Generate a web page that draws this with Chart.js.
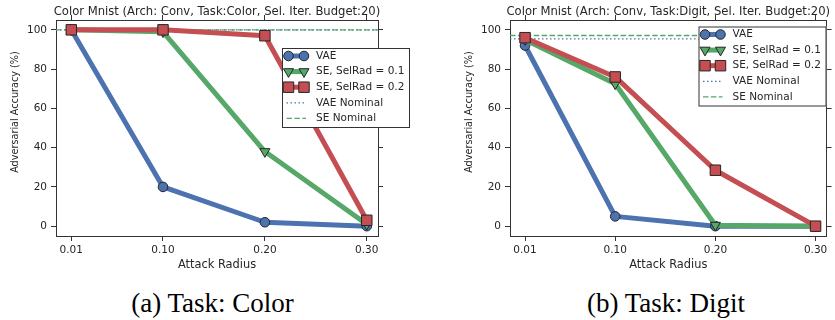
<!DOCTYPE html>
<html>
<head>
<meta charset="utf-8">
<script src="https://cdn.jsdelivr.net/npm/chart.js@4"></script>
<style>
  body { margin: 0; background: #fff; width: 835px; height: 320px; position: relative; overflow: hidden; }
  .panel { position: absolute; top: 0; }
  .caption { position: absolute; top: 288px; line-height: 30px; font-family: "Liberation Serif", "Times New Roman", serif;
             font-size: 27px; color: #000; white-space: nowrap; transform: translateX(-50%); }
</style>
</head>
<body>
<canvas id="colorChart" class="panel" width="415" height="280" style="left:0"></canvas>
<canvas id="digitChart" class="panel" width="420" height="280" style="left:415px"></canvas>
<div class="caption" style="left:212.5px">(a) Task: Color</div>
<div class="caption" style="left:666px">(b) Task: Digit</div>
<script>
// data
const radii = [0.01, 0.10, 0.20, 0.30];
const xTicks = [0.01, 0.10, 0.20, 0.30];
const yTicks = [0, 20, 40, 60, 80, 100];
const seriesNames = ['VAE', 'SE, SelRad = 0.1', 'SE, SelRad = 0.2', 'VAE Nominal', 'SE Nominal'];

const colorVae = [100, 20, 2, 0];
const colorSe01 = [100, 99, 38, 1];
const colorSe02 = [100, 100, 97, 3];
const colorVaeNominal = 100;
const colorSeNominal = 100;

const digitVae = [92, 5, 0, 0];
const digitSe01 = [95, 72.5, 0.5, 0];
const digitSe02 = [96, 76, 28.5, 0];
const digitVaeNominal = 95.4;
const digitSeNominal = 97.1;

const X_MIN = -0.005, X_MAX = 0.311;
const Y_MIN = -5, Y_MAX = 105;

const BLUE = '#4c72b0', GREEN = '#55a868', RED = '#c44e52';
const AXIS = '#333333', TEXT = '#262626', EDGE = '#262626';
const FONT = 'DejaVu Sans';

const styles = [
  { color: BLUE, pointStyle: 'circle', radius: 4.8, rotation: 0 },
  { color: GREEN, pointStyle: 'triangle', radius: 5.8, rotation: 180 },
  { color: RED, pointStyle: 'rect', radius: 7.4, rotation: 0 }
];

function toPoints(values) {
  return values.map((v, i) => ({ x: radii[i], y: v }));
}

function markerSet(label, values, s, order) {
  return {
    label: label,
    data: toPoints(values),
    borderColor: s.color,
    backgroundColor: s.color,
    borderWidth: 5,
    borderJoinStyle: 'round',
    pointStyle: s.pointStyle,
    pointRadius: s.radius,
    pointRotation: s.rotation,
    pointBackgroundColor: s.color,
    pointBorderColor: EDGE,
    pointBorderWidth: 1,
    order: order
  };
}

function nominalSet(label, value, color, dash, order) {
  return {
    label: label,
    data: [{ x: X_MIN, y: value }, { x: X_MAX, y: value }],
    borderColor: color,
    borderWidth: 1.3,
    borderDash: dash,
    pointRadius: 0,
    order: order
  };
}

// titles, axis labels and the legend box
const panelText = {
  id: 'panelText',
  afterDraw(chart, args, opts) {
    const ctx = chart.ctx;
    const a = chart.chartArea;
    const cx = (a.left + a.right) / 2;
    ctx.save();
    ctx.fillStyle = TEXT;
    ctx.textAlign = 'center';
    ctx.textBaseline = 'middle';
    ctx.font = '11.6px "' + FONT + '"';
    ctx.fillText(opts.title, cx, 12);
    ctx.font = '11.4px "' + FONT + '"';
    ctx.fillText('Attack Radius', cx, 265.5);
    ctx.save();
    ctx.font = '9.7px "' + FONT + '"';
    ctx.translate(a.left - 41, 112);
    ctx.rotate(-Math.PI / 2);
    ctx.fillText('Adversarial Accuracy (%)', 0, 0);
    ctx.restore();

    // legend
    ctx.font = '10.5px "' + FONT + '"';
    const lx = opts.legendX, ly = opts.legendY;
    ctx.fillStyle = '#fff';
    ctx.fillRect(lx, ly, 128, 80);
    ctx.strokeStyle = AXIS;
    ctx.lineWidth = 1;
    ctx.strokeRect(lx + 0.5, ly + 0.5, 127, 79);
    const x0 = lx + 6.5, x1 = lx + 22;
    seriesNames.forEach((name, i) => {
      const y = ly + 8 + i * 15.6;
      if (i < 3) {
        const s = styles[i];
        ctx.strokeStyle = s.color;
        ctx.lineWidth = 5;
        ctx.setLineDash([]);
        ctx.beginPath(); ctx.moveTo(x0, y); ctx.lineTo(x1, y); ctx.stroke();
        ctx.fillStyle = s.color;
        ctx.strokeStyle = EDGE;
        ctx.lineWidth = 1;
        [x0, x1].forEach(px => Chart.helpers.drawPoint(ctx,
          { pointStyle: s.pointStyle, radius: s.radius, rotation: s.rotation, borderWidth: 1 }, px, y));
      } else {
        ctx.strokeStyle = i === 3 ? BLUE : GREEN;
        ctx.lineWidth = 1.3;
        ctx.setLineDash(i === 3 ? [1.5, 2.5] : [5.5, 2.4]);
        ctx.beginPath(); ctx.moveTo(x0 - 2, y); ctx.lineTo(x1 + 2, y); ctx.stroke();
        ctx.setLineDash([]);
      }
      ctx.fillStyle = TEXT;
      ctx.textAlign = 'left';
      ctx.fillText(name, lx + 34, y);
    });
    ctx.restore();
  }
};

function axisScale(extra) {
  return Object.assign({
    grid: { display: true, drawOnChartArea: false, drawTicks: true, tickLength: 5, color: AXIS, lineWidth: 1 },
    border: { display: true, color: AXIS, width: 1 }
  }, extra);
}

function makeChart(id, title, vae, se01, se02, vaeNom, seNom, area, legendX, legendY) {
  const canvas = document.getElementById(id);
  const W = canvas.width, H = canvas.height;
  const tickFont = { family: FONT, size: 10.5 };
  const setX = s => { s.ticks = xTicks.map(v => ({ value: v })); };
  const setY = s => { s.ticks = yTicks.map(v => ({ value: v })); };
  return new Chart(canvas, {
    type: 'line',
    data: {
      datasets: [
        markerSet(seriesNames[0], vae, styles[0], 3),
        markerSet(seriesNames[1], se01, styles[1], 2),
        markerSet(seriesNames[2], se02, styles[2], 1),
        nominalSet(seriesNames[3], vaeNom, BLUE, [1.5, 2.5], 5),
        nominalSet(seriesNames[4], seNom, GREEN, [5.5, 2.4], 4)
      ]
    },
    options: {
      responsive: false,
      animation: false,
      events: [],
      layout: { padding: 0 },
      plugins: {
        legend: { display: false },
        title: { display: false },
        tooltip: { enabled: false },
        panelText: { title: title, legendX: legendX, legendY: legendY }
      },
      scales: {
        x: axisScale({
          type: 'linear', position: 'bottom', min: X_MIN, max: X_MAX,
          afterBuildTicks: setX,
          afterFit: s => { s.height = H - area.bottom; },
          ticks: { font: tickFont, color: TEXT, padding: 3, maxRotation: 0, autoSkip: false,
                   callback: v => v.toFixed(2) }
        }),
        xTop: axisScale({
          type: 'linear', position: 'top', min: X_MIN, max: X_MAX,
          afterBuildTicks: setX,
          afterFit: s => { s.height = area.top; },
          ticks: { display: false }
        }),
        y: axisScale({
          type: 'linear', position: 'left', min: Y_MIN, max: Y_MAX,
          afterBuildTicks: setY,
          afterFit: s => { s.width = area.left; },
          ticks: { font: tickFont, color: TEXT, padding: 4, callback: v => String(v) }
        }),
        yRight: axisScale({
          type: 'linear', position: 'right', min: Y_MIN, max: Y_MAX,
          afterBuildTicks: setY,
          afterFit: s => { s.width = W - area.right; },
          ticks: { display: false }
        })
      }
    },
    plugins: [panelText]
  });
}

makeChart('colorChart', 'Color Mnist (Arch: Conv, Task:Color, Sel. Iter. Budget:20)',
  colorVae, colorSe01, colorSe02, colorVaeNominal, colorSeNominal,
  { left: 56, right: 378, top: 20, bottom: 236 }, 282, 48);

makeChart('digitChart', 'Color Mnist (Arch: Conv, Task:Digit, Sel. Iter. Budget:20)',
  digitVae, digitSe01, digitSe02, digitVaeNominal, digitSeNominal,
  { left: 95, right: 418, top: 20, bottom: 236 }, 283.5, 26.5);
</script>
</body>
</html>
